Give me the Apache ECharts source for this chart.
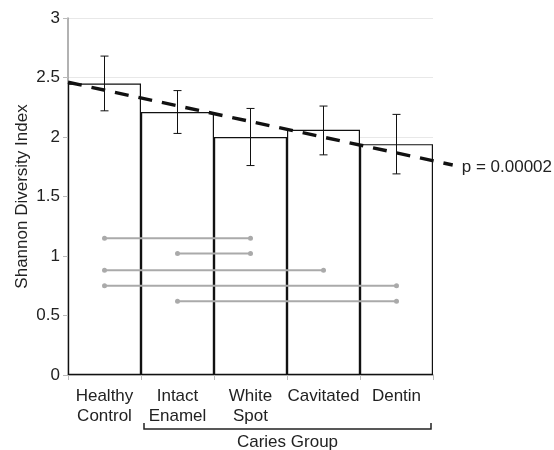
<!DOCTYPE html>
<html><head><meta charset="utf-8">
<script src="https://cdn.jsdelivr.net/npm/echarts@6/dist/echarts.min.js"></script>
<style>html,body{margin:0;padding:0;background:#fff}#c{width:554px;height:450px}</style>
</head><body><div id="c"></div>
<script>
var categories = ['Healthy\nControl', 'Intact\nEnamel', 'White\nSpot', 'Cavitated', 'Dentin'];
var means = [2.45, 2.21, 2.0, 2.06, 1.94];
var errLow = [2.22, 2.03, 1.76, 1.85, 1.69];
var errHigh = [2.68, 2.39, 2.24, 2.26, 2.19];
var trendX = [-0.5, 4.77];
var trendY = [2.46, 1.765];
var pLabel = 'p = 0.00002';
// significance comparisons: [from category index, to category index, y level]
var sigFrom = [0, 1, 0, 0, 1];
var sigTo = [2, 2, 3, 4, 4];
var sigY = [1.15, 1.02, 0.88, 0.75, 0.62];
var yTicks = [0, 3, 0.5];
var groupLabel = 'Caries Group';
var groupFrom = 1, groupTo = 4;

var chart = echarts.init(document.getElementById('c'));
var font = 'Liberation Sans, Arial, sans-serif';
var gL = 68, gR = 121, gT = 18, gB = 75;
var plotW = 554 - gL - gR;
var unitW = plotW / categories.length;
// second grid: same scale, extended right so the trend line can reach trendX end
var extRight = 554 - gL - unitW * (trendX[1] + 0.5);

var series = [
  {type:'bar', data: means, barCategoryGap:'0%', xAxisIndex:0, yAxisIndex:0,
   itemStyle:{color:'#fff', borderColor:'#111', borderWidth:1.2}, silent:true, z:2},
  {type:'custom', xAxisIndex:0, yAxisIndex:0, z:5, silent:true,
   data: means.map(function(m,i){return [i, errLow[i], errHigh[i]];}),
   encode:{x:0, y:[1,2]},
   renderItem:function(params, api){
     var i = params.dataIndex;
     var lo = api.coord([i, api.value(1)]);
     var hi = api.coord([i, api.value(2)]);
     var w = 4;
     var st = {stroke:'#111', lineWidth:1, fill:null};
     return {type:'group', children:[
       {type:'polyline', shape:{points:[[lo[0]-w,lo[1]],[lo[0]+w,lo[1]]]}, style:st},
       {type:'polyline', shape:{points:[[lo[0],lo[1]],[hi[0],hi[1]]]}, style:st},
       {type:'polyline', shape:{points:[[hi[0]-w,hi[1]],[hi[0]+w,hi[1]]]}, style:st}
     ]};
   }},
  {type:'line', xAxisIndex:1, yAxisIndex:1, clip:false, z:6, symbol:'none', silent:true,
   data: trendX.map(function(x,i){return [x, trendY[i]];}),
   lineStyle:{color:'#111', width:3.4, type:[14,10]},
   endLabel:{show:true, formatter:pLabel, color:'#222', fontSize:17, fontFamily:font, distance:9, offset:[0,2]}}
];
for (var k=0;k<sigY.length;k++){
  series.push({type:'line', xAxisIndex:1, yAxisIndex:1, z:4, symbol:'circle', symbolSize:5, silent:true,
    data:[[sigFrom[k], sigY[k]],[sigTo[k], sigY[k]]],
    lineStyle:{color:'#aaaaaa', width:2}, itemStyle:{color:'#aaaaaa'}});
}
chart.setOption({
  animation:false,
  grid:[{left:gL, right:gR, top:gT, bottom:gB},
        {left:gL, right:extRight, top:gT, bottom:gB}],
  xAxis:[
    {type:'category', gridIndex:0, data:categories, boundaryGap:true,
     axisLine:{lineStyle:{color:'#999', width:1.5}},
     axisTick:{show:true, length:5, lineStyle:{color:'#bbb'}},
     axisLabel:{color:'#222', fontSize:17, fontFamily:font, lineHeight:20, margin:11, interval:0},
     splitLine:{show:false}},
    {type:'value', gridIndex:1, min:-0.5, max:trendX[1], show:false}
  ],
  yAxis:[{type:'value', gridIndex:0, min:yTicks[0], max:yTicks[1], interval:yTicks[2],
    name:'Shannon Diversity Index', nameLocation:'middle', nameGap:37, nameMoveOverlap:false,
    nameTextStyle:{color:'#222', fontSize:17, fontFamily:font},
    axisLine:{show:true, lineStyle:{color:'#999', width:1.5}},
    axisTick:{show:true, length:5, lineStyle:{color:'#bbb'}},
    axisLabel:{color:'#222', fontSize:17, fontFamily:font, margin:8},
    splitLine:{show:true, lineStyle:{color:'#e8e8e8', width:1}}},
    {type:'value', gridIndex:1, min:yTicks[0], max:yTicks[1], show:false}],
  tooltip:{show:false},
  series: series
});
var xl = chart.convertToPixel({xAxisIndex:1}, groupFrom - 0.5) + 3;
var xr = chart.convertToPixel({xAxisIndex:1}, groupTo + 0.5) - 2;
var yb = 429;
chart.setOption({graphic:[
  {type:'polyline', shape:{points:[[xl,yb-6],[xl,yb],[xr,yb],[xr,yb-6]]}, style:{stroke:'#222', lineWidth:1.5, fill:null}},
  {type:'text', x:(xl+xr)/2, y:yb+13, style:{text:groupLabel, fill:'#222', fontSize:17, fontFamily:font, align:'center', verticalAlign:'middle'}}
]});
</script></body></html>
